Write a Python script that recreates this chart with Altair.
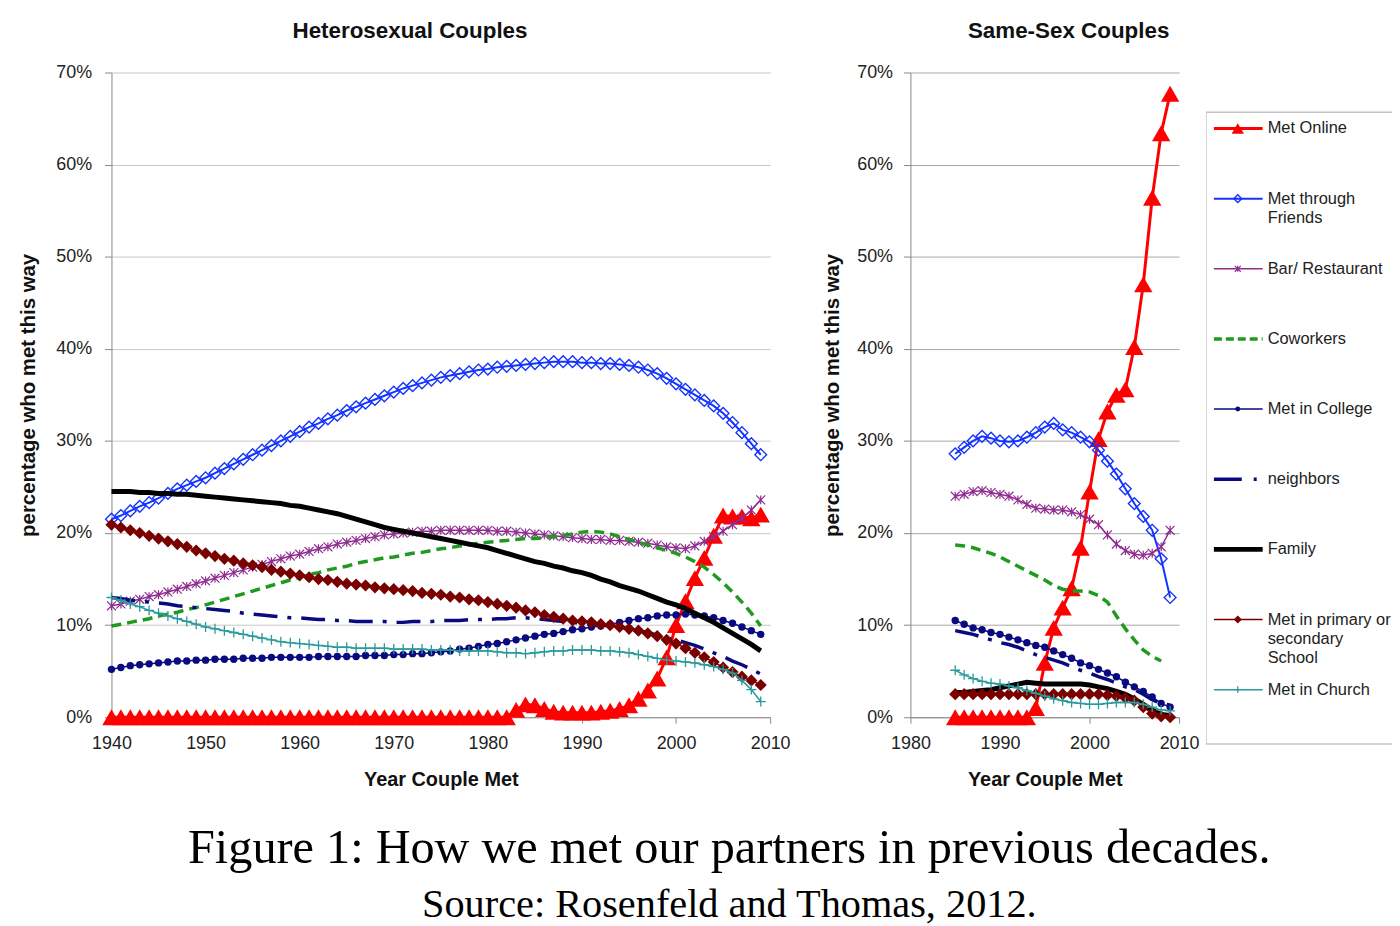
import altair as alt
import pandas as pd

# ---------------- data ----------------
het_years = list(range(1940, 2010))
ss_years = list(range(1985, 2010))

SERIES = ["Met Online", "Met through Friends", "Bar/ Restaurant", "Coworkers",
          "Met in College", "neighbors", "Family",
          "Met in primary or secondary School", "Met in Church"]

het_online = [0, 0, 0, 0, 0, 0, 0, 0, 0, 0,
              0, 0, 0, 0, 0, 0, 0, 0, 0, 0,
              0, 0, 0, 0, 0, 0, 0, 0, 0, 0,
              0, 0, 0, 0, 0, 0, 0, 0, 0, 0,
              0, 0, 0, 0.8, 1.4, 1.3, 0.9, 0.6, 0.5, 0.5,
              0.5, 0.5, 0.6, 0.7, 0.9, 1.3, 2.0, 2.9, 4.2, 6.5,
              10.0, 12.6, 15.1, 17.3, 19.7, 21.9, 21.8, 21.8, 21.6, 22.0]
het_friends = [21.5, 21.9, 22.4, 22.9, 23.3, 23.8, 24.3, 24.8, 25.2, 25.6,
               26.0, 26.5, 27.0, 27.5, 28.0, 28.5, 29.0, 29.5, 30.0, 30.5,
               31.0, 31.5, 31.9, 32.4, 32.8, 33.3, 33.7, 34.1, 34.5, 34.9,
               35.3, 35.7, 36.0, 36.3, 36.6, 36.9, 37.1, 37.3, 37.5, 37.7,
               37.8, 38.0, 38.1, 38.2, 38.3, 38.4, 38.5, 38.6, 38.6, 38.6,
               38.5, 38.5, 38.4, 38.4, 38.3, 38.2, 38.0, 37.7, 37.3, 36.8,
               36.2, 35.6, 35.0, 34.4, 33.8, 33.0, 32.0, 30.9, 29.7, 28.5]
het_bar = [12.1, 12.3, 12.6, 12.8, 13.1, 13.3, 13.6, 13.9, 14.2, 14.5,
           14.8, 15.1, 15.4, 15.7, 16.0, 16.3, 16.6, 16.9, 17.2, 17.5,
           17.7, 18.0, 18.3, 18.5, 18.8, 19.0, 19.2, 19.4, 19.6, 19.8,
           19.9, 20.0, 20.1, 20.2, 20.2, 20.3, 20.3, 20.3, 20.3, 20.3,
           20.3, 20.2, 20.2, 20.1, 20.0, 19.9, 19.8, 19.7, 19.6, 19.5,
           19.4, 19.3, 19.3, 19.2, 19.2, 19.1, 19.0, 18.9, 18.7, 18.5,
           18.4, 18.3, 18.6, 19.1, 19.6, 20.2, 20.9, 21.6, 22.5, 23.6]
het_cowork = [9.9, 10.1, 10.3, 10.5, 10.7, 11.0, 11.2, 11.4, 11.7, 11.9,
              12.2, 12.5, 12.8, 13.1, 13.4, 13.7, 14.0, 14.3, 14.6, 14.9,
              15.2, 15.5, 15.7, 16.0, 16.2, 16.4, 16.7, 16.9, 17.1, 17.3,
              17.4, 17.6, 17.8, 17.9, 18.1, 18.3, 18.4, 18.6, 18.7, 18.9,
              19.0, 19.1, 19.2, 19.3, 19.4, 19.4, 19.5, 19.6, 19.7, 19.9,
              20.1, 20.2, 20.1, 19.9, 19.6, 19.3, 19.0, 18.7, 18.4, 18.1,
              17.8, 17.4, 16.9, 16.3, 15.5, 14.6, 13.6, 12.5, 11.3, 9.9]
het_college = [5.2, 5.4, 5.6, 5.7, 5.8, 5.9, 6.0, 6.1, 6.1, 6.2,
               6.2, 6.3, 6.3, 6.3, 6.4, 6.4, 6.4, 6.5, 6.5, 6.5,
               6.5, 6.5, 6.6, 6.6, 6.6, 6.6, 6.6, 6.7, 6.7, 6.7,
               6.8, 6.8, 6.9, 6.9, 7.0, 7.1, 7.2, 7.4, 7.5, 7.7,
               7.9, 8.0, 8.2, 8.4, 8.6, 8.8, 9.0, 9.1, 9.3, 9.5,
               9.6, 9.8, 9.9, 10.1, 10.3, 10.5, 10.7, 10.8, 11.0, 11.1,
               11.1, 11.2, 11.1, 11.0, 10.8, 10.5, 10.2, 9.8, 9.4, 9.0]
het_neigh = [13.0, 12.9, 12.7, 12.6, 12.5, 12.4, 12.3, 12.1, 12.0, 11.9,
             11.8, 11.7, 11.6, 11.5, 11.3, 11.2, 11.1, 11.0, 10.9, 10.8,
             10.8, 10.7, 10.6, 10.6, 10.5, 10.5, 10.4, 10.4, 10.4, 10.4,
             10.3, 10.3, 10.4, 10.4, 10.4, 10.5, 10.5, 10.5, 10.6, 10.6,
             10.6, 10.7, 10.7, 10.8, 10.8, 10.7, 10.6, 10.5, 10.4, 10.3,
             10.2, 10.1, 10.0, 9.9, 9.8, 9.6, 9.4, 9.2, 8.9, 8.6,
             8.4, 8.1, 7.8, 7.4, 7.0, 6.6, 6.1, 5.7, 5.2, 4.7]
het_family = [24.5, 24.5, 24.5, 24.4, 24.4, 24.3, 24.3, 24.2, 24.2, 24.1,
              24.0, 23.9, 23.8, 23.7, 23.6, 23.5, 23.4, 23.3, 23.2, 23.0,
              22.9, 22.7, 22.5, 22.3, 22.1, 21.8, 21.5, 21.2, 20.9, 20.6,
              20.4, 20.2, 20.0, 19.8, 19.6, 19.4, 19.2, 19.0, 18.8, 18.6,
              18.4, 18.1, 17.8, 17.5, 17.2, 16.9, 16.7, 16.4, 16.2, 15.9,
              15.7, 15.4, 15.0, 14.7, 14.3, 14.0, 13.7, 13.3, 12.9, 12.5,
              12.2, 11.8, 11.3, 10.8, 10.3, 9.7, 9.1, 8.5, 7.9, 7.2]
het_school = [20.9, 20.6, 20.3, 20.0, 19.7, 19.4, 19.1, 18.8, 18.5, 18.1,
              17.8, 17.5, 17.2, 17.0, 16.7, 16.5, 16.3, 16.0, 15.8, 15.6,
              15.4, 15.2, 15.0, 14.9, 14.7, 14.5, 14.4, 14.3, 14.1, 14.0,
              13.9, 13.8, 13.7, 13.5, 13.4, 13.3, 13.1, 13.0, 12.8, 12.7,
              12.5, 12.3, 12.1, 11.9, 11.6, 11.4, 11.1, 10.9, 10.7, 10.5,
              10.4, 10.3, 10.1, 10.0, 9.8, 9.6, 9.4, 9.1, 8.8, 8.4,
              8.0, 7.5, 7.0, 6.5, 6.0, 5.4, 4.9, 4.4, 4.0, 3.5]
het_church = [13.0, 12.7, 12.3, 12.0, 11.6, 11.3, 11.0, 10.7, 10.4, 10.1,
              9.8, 9.6, 9.4, 9.2, 9.0, 8.8, 8.6, 8.4, 8.2, 8.1,
              8.0, 7.9, 7.8, 7.7, 7.6, 7.6, 7.5, 7.5, 7.5, 7.5,
              7.4, 7.4, 7.4, 7.4, 7.3, 7.3, 7.3, 7.2, 7.2, 7.2,
              7.2, 7.1, 7.0, 7.0, 6.9, 7.0, 7.1, 7.2, 7.2, 7.3,
              7.3, 7.3, 7.2, 7.2, 7.1, 7.0, 6.8, 6.6, 6.4, 6.2,
              6.1, 6.0, 5.9, 5.7, 5.5, 5.2, 4.8, 4.0, 3.0, 1.7]

ss_online = [0, 0, 0, 0, 0, 0, 0, 0, 0, 1.0,
             5.9, 9.7, 11.9, 14.0, 18.4, 24.5, 30.2, 33.2, 35.0, 35.6,
             40.2, 47.0, 56.4, 63.4, 67.7]
ss_friends = [28.6, 29.3, 30.0, 30.5, 30.3, 30.0, 29.9, 30.0, 30.4, 30.9,
              31.5, 31.9, 31.2, 30.9, 30.4, 29.9, 29.0, 27.8, 26.4, 24.8,
              23.2, 21.8, 20.3, 17.2, 13.0]
ss_bar = [24.0, 24.2, 24.5, 24.6, 24.4, 24.2, 24.0, 23.6, 23.1, 22.7,
          22.6, 22.5, 22.5, 22.3, 22.0, 21.5, 20.9, 19.8, 18.8, 18.1,
          17.7, 17.6, 17.8, 18.5, 20.3]
ss_cowork = [18.7, 18.6, 18.4, 18.1, 17.8, 17.4, 16.9, 16.4, 15.9, 15.4,
             14.9, 14.3, 13.9, 13.7, 13.7, 13.6, 13.2, 12.5, 11.0, 9.6,
             8.4, 7.3, 6.6, 6.1, None]
ss_college = [10.5, 10.1, 9.7, 9.5, 9.2, 9.0, 8.7, 8.4, 8.1, 7.8,
              7.6, 7.2, 6.8, 6.4, 5.9, 5.6, 5.2, 4.8, 4.4, 3.8,
              3.3, 2.8, 2.2, 1.5, 1.1]
ss_neigh = [9.4, 9.2, 9.0, 8.7, 8.4, 8.1, 7.9, 7.6, 7.2, 6.8,
            6.5, 6.2, 5.9, 5.5, 5.1, 4.8, 4.4, 4.1, 3.7, 3.3,
            3.0, 2.5, 1.9, 1.5, 1.3]
ss_family = [2.7, 2.7, 2.8, 2.9, 3.0, 3.2, 3.4, 3.6, 3.8, 3.7,
             3.6, 3.6, 3.6, 3.6, 3.6, 3.5, 3.3, 3.1, 2.8, 2.5,
             2.0, 1.4, 0.8, 0.3, 0.2]
ss_school = [2.5, 2.5, 2.5, 2.5, 2.5, 2.5, 2.5, 2.5, 2.5, 2.5,
             2.5, 2.5, 2.5, 2.5, 2.5, 2.5, 2.5, 2.4, 2.3, 2.1,
             1.8, 1.1, 0.4, 0.1, 0.0]
ss_church = [5.1, 4.6, 4.2, 3.9, 3.7, 3.6, 3.4, 3.2, 2.9, 2.6,
             2.3, 2.0, 1.8, 1.6, 1.5, 1.4, 1.4, 1.5, 1.6, 1.6,
             1.6, 1.4, 1.1, 0.8, 0.7]

het_values = [het_online, het_friends, het_bar, het_cowork, het_college,
              het_neigh, het_family, het_school, het_church]
ss_values = [ss_online, ss_friends, ss_bar, ss_cowork, ss_college,
             ss_neigh, ss_family, ss_school, ss_church]

legend_labels = [["Met Online"], ["Met through", "Friends"], ["Bar/ Restaurant"],
                 ["Coworkers"], ["Met in College"], ["neighbors"], ["Family"],
                 ["Met in primary or", "secondary", "School"], ["Met in Church"]]

het_ticks = [1940, 1950, 1960, 1970, 1980, 1990, 2000, 2010]
ss_ticks = [1980, 1990, 2000, 2010]
pct_ticks = [0, 10, 20, 30, 40, 50, 60, 70]

# ---------------- styles ----------------
ASTER = "M-1,-1L1,1M-1,1L1,-1M0,-1L0,1"
PLUS = "M-1,0L1,0M0,-1L0,1"
STYLE = {
    "Met Online": dict(color="#FF0000", width=3, dash=None, shape="triangle-up", size=340, filled=True, msw=0),
    "Met through Friends": dict(color="#1433FF", width=2, dash=None, shape="diamond", size=140, filled=False, msw=1.4),
    "Bar/ Restaurant": dict(color="#8E2C90", width=1.5, dash=None, shape=ASTER, size=80, filled=False, msw=1.2),
    "Coworkers": dict(color="#1F9A1F", width=3.5, dash=[10, 6], shape=None),
    "Met in College": dict(color="#0A0A80", width=1.5, dash=None, shape="circle", size=55, filled=True, msw=0),
    "neighbors": dict(color="#0A0A80", width=3.5, dash=[24, 10, 4, 10], shape=None),
    "Family": dict(color="#000000", width=5, dash=None, shape=None),
    "Met in primary or secondary School": dict(color="#7A0000", width=1.5, dash=None, shape="diamond", size=150, filled=True, msw=0),
    "Met in Church": dict(color="#2A9A9A", width=1.5, dash=None, shape=PLUS, size=100, filled=False, msw=1.3),
}

FONT = "Liberation Sans"
PLOT_H = 648


def make_df(years, values):
    rows = []
    for name, vals in zip(SERIES, values):
        for yr, v in zip(years, vals):
            if v is not None:
                rows.append({"year": yr, "pct": v, "series": name})
    return pd.DataFrame(rows)


def panel(years, values, xdom, xticks, width, title, title_dx, grid_color, lab_pad, ttl_pad):
    df = make_df(years, values)
    x = alt.X("year:Q", scale=alt.Scale(domain=xdom, nice=False, zero=False),
              axis=alt.Axis(values=xticks, format="d", grid=False, labelFontSize=18,
                            labelColor="#222", tickSize=6, tickColor="#888",
                            domainColor="#888", labelPadding=11, labelFlush=False,
                            title="Year Couple Met", titleFontSize=20,
                            titleFontWeight="bold", titleColor="#111", titlePadding=18))
    y = alt.Y("pct:Q", scale=alt.Scale(domain=[0, 70], nice=False),
              axis=alt.Axis(values=pct_ticks, labelExpr="datum.value + '%'",
                            labelFontSize=18, labelColor="#222", tickSize=7,
                            tickColor="#888", domainColor="#888", gridColor=grid_color,
                            labelPadding=lab_pad, title="percentage who met this way",
                            titleFontSize=20.5, titleFontWeight="bold", titleColor="#111",
                            titlePadding=ttl_pad))
    layers = []
    for name in SERIES:
        st = STYLE[name]
        base = alt.Chart(df).transform_filter(alt.datum.series == name)
        kw = dict(color=st["color"], strokeWidth=st["width"])
        if st["dash"]:
            kw["strokeDash"] = st["dash"]
        layers.append(base.mark_line(**kw).encode(x=x, y=y))
        if st["shape"]:
            pk = dict(shape=st["shape"], size=st["size"], opacity=1)
            if st["filled"]:
                pk.update(filled=True, fill=st["color"])
            else:
                pk.update(filled=False, stroke=st["color"], strokeWidth=st["msw"])
            layers.append(base.mark_point(**pk).encode(x=x, y=y))
    return alt.layer(*layers).properties(
        width=width, height=PLOT_H,
        title=alt.TitleParams(title, font=FONT, fontSize=22.5, fontWeight="bold",
                              color="#111", anchor="middle", offset=21, dx=title_dx))


left = panel(het_years, het_values, [1940, 2010], het_ticks, 662,
             "Heterosexual Couples", -31, "#C8C8C8", 13, 17)
right = panel(ss_years, ss_values, [1980, 2010], ss_ticks, 270,
              "Same-Sex Couples", 24, "#A8A8A8", 11, 14)

# ---------------- legend panel ----------------
LEG_W = 187
LEG_H = 676
STEP = 70.5
FIRST = 56.3
leg_rows = []
text_rows = []
for i, (name, lines) in enumerate(zip(SERIES, legend_labels)):
    leg_rows.append({"series": name, "idx": i})
    for k, line in enumerate(lines):
        text_rows.append({"idx": i + k * 19.5 / STEP, "text": line})
leg_df = pd.DataFrame(leg_rows)
txt_df = pd.DataFrame(text_rows)
ly = alt.Y("idx:Q", scale=alt.Scale(domain=[-FIRST / STEP, (LEG_H - FIRST) / STEP], reverse=True, nice=False, zero=False), axis=None)

leg_layers = [
    alt.Chart(pd.DataFrame({"box": [1]})).mark_rect(filled=False, stroke="#C4C4C4", strokeWidth=1.5, clip=True)
    .encode(x=alt.value(0), x2=alt.value(LEG_W + 40), y=alt.value(40), y2=alt.value(LEG_H - 1))
]
for name in SERIES:
    st = STYLE[name]
    base = alt.Chart(leg_df).transform_filter(alt.datum.series == name)
    kw = dict(color=st["color"], strokeWidth=st["width"])
    if name == "neighbors":
        kw["strokeDash"] = [28, 12, 3, 12]
    elif st["dash"]:
        kw["strokeDash"] = [8, 4]
    leg_layers.append(base.mark_rule(**kw).encode(x=alt.value(8), x2=alt.value(57), y=ly))
    if st["shape"]:
        pk = dict(shape=st["shape"], size=st["size"] * 0.45, opacity=1)
        if st["filled"]:
            pk.update(filled=True, fill=st["color"])
        else:
            pk.update(filled=False, stroke=st["color"], strokeWidth=st["msw"])
        leg_layers.append(base.mark_point(**pk).encode(x=alt.value(32), y=ly))
leg_layers.append(
    alt.Chart(txt_df).mark_text(align="left", baseline="middle", font=FONT, fontSize=16.5,
                                color="#222", clip=True)
    .encode(x=alt.value(62), y=ly, text="text:N"))
legend = alt.layer(*leg_layers).properties(width=LEG_W, height=LEG_H)

chart = alt.hconcat(
    left, alt.hconcat(right, legend, spacing=6), spacing=31
).properties(
    padding={"left": 10, "top": 9.5, "right": 0, "bottom": 0},
    title=alt.TitleParams(
        "Figure 1: How we met our partners in previous decades.",
        subtitle="Source: Rosenfeld and Thomas, 2012.",
        orient="bottom", anchor="middle", font="Liberation Serif", fontSize=48.5,
        fontWeight="normal", color="#000", subtitleFont="Liberation Serif",
        subtitleFontSize=40.5, subtitleColor="#000", subtitlePadding=12,
        offset=35, dx=24),
).configure_view(strokeWidth=0).configure_axis(labelFont=FONT, titleFont=FONT)

chart.save("out.html", embed_options={"renderer": "svg", "actions": False})
